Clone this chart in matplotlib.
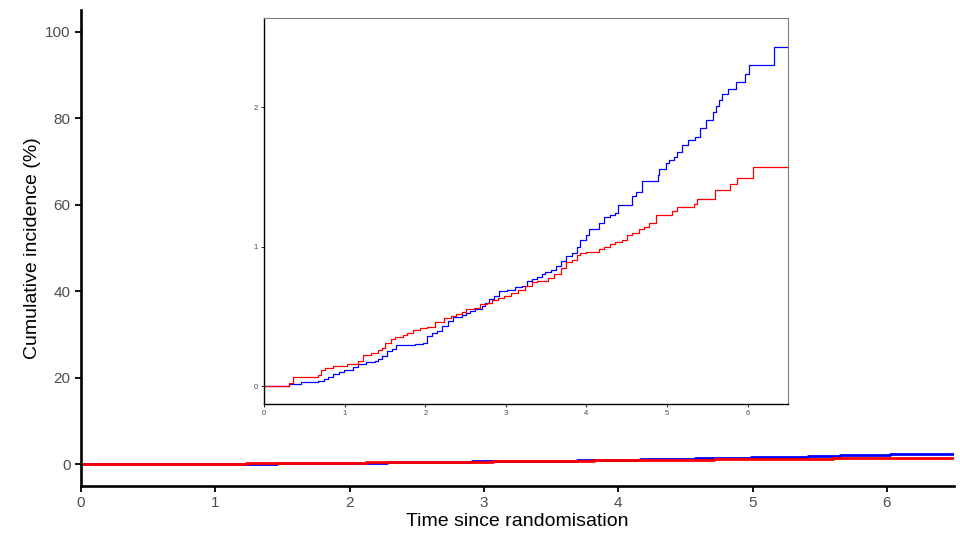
import matplotlib
matplotlib.use("Agg")
import matplotlib.pyplot as plt

plt.rcParams['font.family'] = ['Liberation Sans', 'DejaVu Sans']

# cumulative incidence (%) step data
blue_t = [0, 0.2, 0.31, 0.46, 0.67, 0.74, 0.8, 0.86, 0.93, 0.99, 1.1, 1.16, 1.27,
          1.38, 1.42, 1.46, 1.53, 1.59, 1.64, 1.87, 1.97, 2.02, 2.08, 2.15, 2.21,
          2.28, 2.34, 2.45, 2.51, 2.55, 2.62, 2.7, 2.74, 2.79, 2.85, 2.91, 3.02,
          3.11, 3.2, 3.26, 3.32, 3.39, 3.45, 3.49, 3.56, 3.62, 3.69, 3.75, 3.82,
          3.88, 3.92, 3.99, 4.03, 4.16, 4.22, 4.29, 4.35, 4.39, 4.57, 4.61, 4.69,
          4.89, 4.9, 4.99, 5.03, 5.08, 5.12, 5.18, 5.26, 5.35, 5.41, 5.48, 5.57,
          5.61, 5.65, 5.68, 5.76, 5.86, 5.97, 6.02, 6.33, 6.5]
blue_ci = [0, 0, 0.012, 0.03, 0.038, 0.05, 0.067, 0.086, 0.1, 0.116, 0.138, 0.157,
           0.169, 0.18, 0.197, 0.216, 0.25, 0.268, 0.297, 0.304, 0.31, 0.358, 0.38,
           0.394, 0.43, 0.465, 0.496, 0.506, 0.52, 0.537, 0.553, 0.572, 0.596,
           0.625, 0.648, 0.68, 0.69, 0.708, 0.715, 0.75, 0.767, 0.78, 0.8, 0.815,
           0.834, 0.862, 0.893, 0.93, 0.952, 1.0, 1.047, 1.083, 1.123, 1.17, 1.21,
           1.226, 1.242, 1.297, 1.359, 1.39, 1.466, 1.513, 1.556, 1.596, 1.62,
           1.644, 1.68, 1.727, 1.762, 1.786, 1.85, 1.91, 1.964, 2.01, 2.05, 2.09,
           2.13, 2.18, 2.24, 2.3, 2.43, 2.43]

red_t = [0, 0.2, 0.31, 0.36, 0.67, 0.71, 0.76, 0.855, 1.03, 1.17, 1.23, 1.33, 1.42,
         1.46, 1.5, 1.57, 1.63, 1.72, 1.78, 1.85, 1.93, 2.02, 2.12, 2.23, 2.32,
         2.38, 2.45, 2.51, 2.6, 2.68, 2.77, 2.83, 2.9, 2.98, 3.07, 3.15, 3.24,
         3.32, 3.39, 3.52, 3.6, 3.69, 3.75, 3.82, 3.88, 3.92, 3.99, 4.16, 4.22,
         4.29, 4.35, 4.44, 4.5, 4.56, 4.65, 4.71, 4.78, 4.86, 5.06, 5.12, 5.33,
         5.37, 5.6, 5.78, 5.87, 6.07, 6.5]
red_ci = [0, 0, 0.02, 0.067, 0.08, 0.116, 0.128, 0.14, 0.16, 0.176, 0.22, 0.235,
          0.257, 0.275, 0.31, 0.335, 0.35, 0.363, 0.38, 0.4, 0.413, 0.42, 0.458,
          0.49, 0.5, 0.518, 0.532, 0.549, 0.556, 0.587, 0.596, 0.62, 0.632, 0.648,
          0.667, 0.686, 0.715, 0.743, 0.753, 0.774, 0.805, 0.846, 0.89, 0.905,
          0.94, 0.957, 0.964, 0.98, 1.0, 1.017, 1.03, 1.047, 1.083, 1.1, 1.123,
          1.142, 1.166, 1.226, 1.257, 1.28, 1.306, 1.34, 1.406, 1.446, 1.494,
          1.568, 1.568]

main_yticks = [0, 20, 40, 60, 80, 100]
inset_yticks = [0, 1, 2]
xticks = [0, 1, 2, 3, 4, 5, 6]

BLUE = '#0000ff'
RED = '#ff0000'
GREY = '#4d4d4d'

fig = plt.figure(figsize=(9.6, 5.39), dpi=100)
ax = fig.add_axes([81 / 960, 1 - 486 / 539, 873 / 960, 476 / 539])
ax.plot(blue_t, blue_ci, drawstyle='steps-post', color=BLUE, lw=2)
ax.plot(red_t, red_ci, drawstyle='steps-post', color=RED, lw=2)
ax.set_xlim(0, 6.5)
ax.set_ylim(-5, 105)
ax.set_xticks(xticks)
ax.set_yticks(main_yticks)
for s in ['top', 'right']:
    ax.spines[s].set_visible(False)
for s in ['left', 'bottom']:
    ax.spines[s].set_linewidth(1.9)
ax.tick_params(labelsize=11, labelcolor=GREY, color='black', width=1.3, length=4.5, pad=3)
ax.set_xlabel('Time since randomisation', fontsize=14, labelpad=2)
ax.set_ylabel('Cumulative incidence (%)', fontsize=14, labelpad=3)

# zoomed-in inset on the same curves
ins = fig.add_axes([264 / 960, 1 - 404 / 539, 524 / 960, 386 / 539])
ins.set_facecolor('white')
ins.plot(blue_t, blue_ci, drawstyle='steps-post', color=BLUE, lw=0.9)
ins.plot(red_t, red_ci, drawstyle='steps-post', color=RED, lw=0.9)
ins.set_xlim(0, 6.5)
ins.set_ylim(-0.129, 2.638)
ins.set_xticks(xticks)
ins.set_yticks(inset_yticks)
for s in ['top', 'right']:
    ins.spines[s].set_color('#7f7f7f')
    ins.spines[s].set_linewidth(0.8)
for s in ['left', 'bottom']:
    ins.spines[s].set_linewidth(1.0)
ins.tick_params(labelsize=5.5, labelcolor=GREY, color='black', width=0.6, length=2.5, pad=2)

fig.savefig('out.png', dpi=100)
